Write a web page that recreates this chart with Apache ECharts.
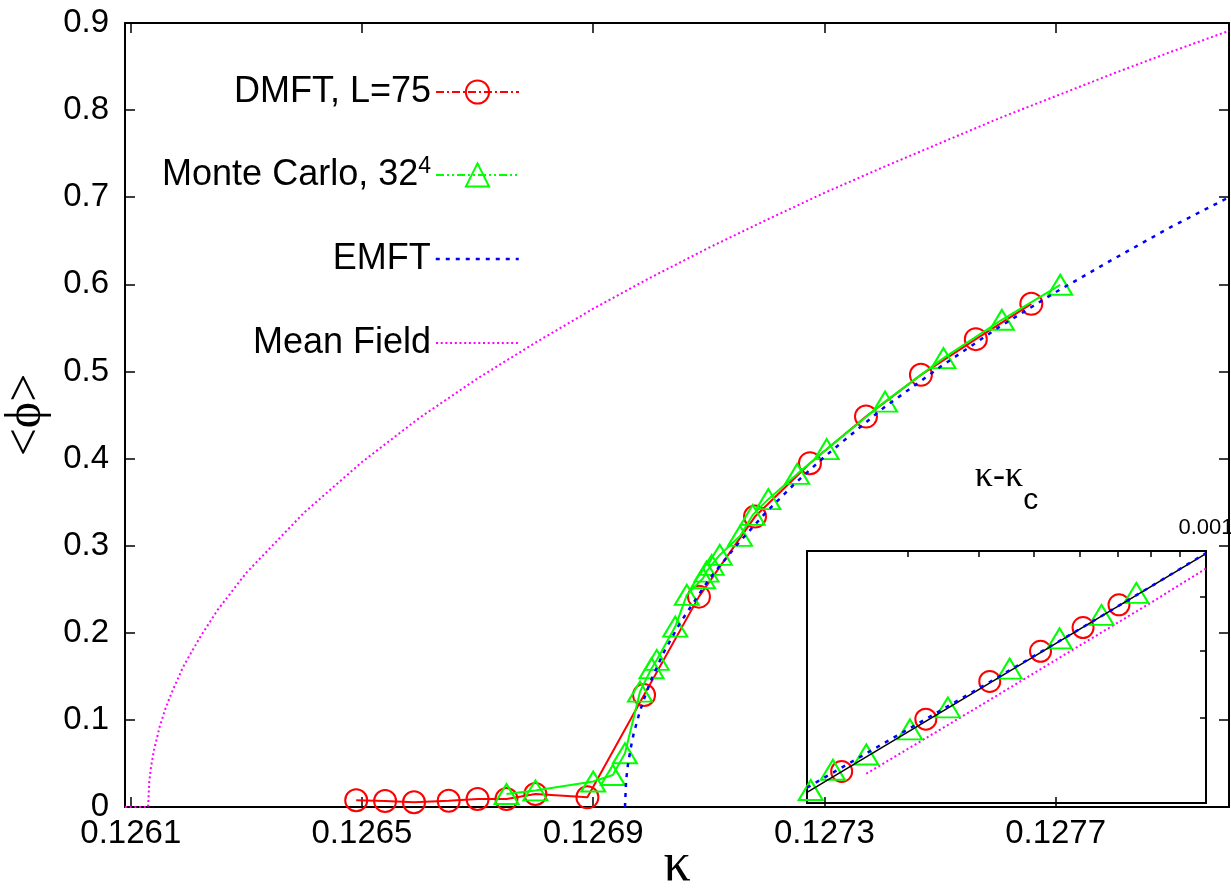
<!DOCTYPE html>
<html><head><meta charset="utf-8">
<script src="https://cdn.jsdelivr.net/npm/echarts@6/dist/echarts.min.js"></script>
<style>html,body{margin:0;padding:0;background:#fff}#c{width:1231px;height:893px}</style>
</head><body><div id="c"></div>
<script>
// ---------- main plot data ----------
const xTicks = [0.1261, 0.1265, 0.1269, 0.1273, 0.1277];

const dmftKappa = [0.12649, 0.12654, 0.12659, 0.12665, 0.12670, 0.12675, 0.12680, 0.12689,
  0.126988, 0.127083, 0.12718, 0.127275, 0.127372, 0.127467, 0.127562, 0.127658];
const dmftPhi = [0.0077, 0.0069, 0.0054, 0.0072, 0.0092, 0.0092, 0.0149, 0.0111,
  0.1286, 0.2415, 0.3334, 0.3947, 0.4482, 0.4961, 0.5371, 0.5776];

const mcKappa = [0.12675, 0.12680, 0.12690, 0.126934, 0.126955, 0.126981, 0.127001, 0.127010,
  0.127042, 0.127062, 0.127090, 0.127096, 0.127105, 0.127119, 0.127154, 0.127176, 0.127203,
  0.127253, 0.127304, 0.127405, 0.127506, 0.127607, 0.127708];
const mcPhi = [0.0149, 0.0190, 0.0293, 0.0367, 0.0617, 0.1324, 0.1593, 0.1688,
  0.2071, 0.2435, 0.2626, 0.2702, 0.2779, 0.2894, 0.3112, 0.3353, 0.3534,
  0.3824, 0.4108, 0.4654, 0.5153, 0.5593, 0.5995];

const emftKappa = [0.126955, 0.126957, 0.12696, 0.126965, 0.12697, 0.12698, 0.12699, 0.12700,
  0.12702, 0.12705, 0.12710, 0.12715, 0.12720, 0.12725, 0.12730, 0.12740, 0.12750, 0.12760,
  0.12770, 0.12780, 0.12790, 0.12800];
const emftPhi = [0.0, 0.031, 0.048, 0.068, 0.084, 0.108, 0.128, 0.145,
  0.175, 0.211, 0.261, 0.302, 0.339, 0.372, 0.402, 0.457, 0.505, 0.550,
  0.591, 0.629, 0.666, 0.700];

const mfKappa = [0.12609, 0.12613, 0.126132, 0.126135, 0.12614, 0.12615, 0.12616, 0.12617,
  0.12619, 0.1262, 0.12622, 0.12625, 0.1263, 0.1264, 0.1265, 0.1266, 0.1267, 0.1268, 0.1269,
  0.1270, 0.1271, 0.1272, 0.1273, 0.1274, 0.1275, 0.1276, 0.1277, 0.1278, 0.1279, 0.1280];
const mfPhi = [0.0, 0.0, 0.029, 0.046, 0.065, 0.092, 0.113, 0.130,
  0.160, 0.172, 0.195, 0.226, 0.269, 0.338, 0.396, 0.447, 0.492, 0.533, 0.572,
  0.608, 0.642, 0.674, 0.705, 0.734, 0.762, 0.790, 0.816, 0.842, 0.867, 0.891];

// ---------- inset data (kappa - kappa_c, <phi>), log-log ----------
const insetDmftDk = [2.30e-4, 3.23e-4, 4.18e-4, 5.13e-4, 6.09e-4, 7.04e-4];
const insetDmftPhi = [0.3336, 0.3977, 0.4514, 0.4996, 0.5411, 0.5841];
const insetMcDk = [2.03e-4, 2.22e-4, 2.54e-4, 3.03e-4, 3.53e-4, 4.53e-4, 5.54e-4, 6.56e-4, 7.55e-4];
const insetMcPhi = [0.3134, 0.3355, 0.3531, 0.3843, 0.4137, 0.4713, 0.5219, 0.5646, 0.6079];
const insetFitDk = [2e-4, 1e-3];
const insetFitPhi = [0.311, 0.694];
const insetEmftDk = [2e-4, 3e-4, 4e-4, 5e-4, 6e-4, 7e-4, 8e-4, 9e-4, 1e-3];
const insetEmftPhi = [0.316, 0.384, 0.441, 0.492, 0.538, 0.581, 0.621, 0.659, 0.695];
const insetMfDk = [2.54e-4, 4e-4, 6e-4, 8e-4, 1e-3];
const insetMfPhi = [0.331, 0.415, 0.509, 0.588, 0.660];
const insetXTicks = [3e-4, 4e-4, 5e-4, 6e-4, 7e-4, 8e-4, 9e-4];
const insetXLabels = [1e-3];
const insetYTicks = [0.4, 0.5, 0.6];
const insetXRange = [2e-4, 1e-3];
const insetYRange = [0.3, 0.7];

const DMFT = 'DMFT, L=75', MC = 'Monte Carlo, 32⁴', EMFT = 'EMFT', MF = 'Mean Field';
const SANS = "'Liberation Sans', Arial, sans-serif";
const SERIF = "'Liberation Serif', 'DejaVu Serif', serif";

const pairs = (xs, ys) => xs.map((x, i) => [x, ys[i]]);
const logPairs = (xs, ys) => xs.map((x, i) => [Math.log10(x), Math.log10(ys[i])]);
const L = Math.log10;

const legendBase = {
  orient: 'vertical', align: 'right', right: 706, itemWidth: 83, itemHeight: 29,
  selectedMode: false, itemGap: 0,
  formatter: n => n === MC ? '{n|Monte Carlo, 32}{s|4}' : '{n|' + n + '}',
  textStyle: { color: '#000', fontFamily: SANS, fontSize: 36, lineHeight: 40,
    rich: { n: { fontSize: 36, fontFamily: SANS, color: '#000', lineHeight: 40 },
            s: { fontSize: 23, fontFamily: SANS, color: '#000', lineHeight: 16, verticalAlign: 'top' } } }
};

const blackLine = { lineStyle: { color: '#000', width: 2 } };
const tickStyle = { color: '#000', width: 1.5 };

const option = {
  animation: false,
  backgroundColor: '#fff',
  grid: [
    { left: 125, right: 2, top: 23, bottom: 86, outerBoundsMode: 'none', containLabel: false },
    { left: 807, right: 25, top: 551, bottom: 90, outerBoundsMode: 'none', containLabel: false,
      show: true, backgroundColor: '#fff', borderColor: '#000', borderWidth: 2 }
  ],
  legend: [
    Object.assign({}, legendBase, { data: [DMFT], top: 67, lineStyle: { type: [8, 3, 2, 3], width: 2 } }),
    Object.assign({}, legendBase, { data: [MC], top: 150, lineStyle: { type: [8, 3, 2, 3, 2, 3], width: 2 } }),
    Object.assign({}, legendBase, { data: [EMFT], top: 234, itemStyle: { opacity: 0 }, lineStyle: { type: [4, 6], width: 2.5 } }),
    Object.assign({}, legendBase, { data: [MF], top: 318, itemStyle: { opacity: 0 }, lineStyle: { type: [2, 2.7], width: 2 } })
  ],
  xAxis: [
    { gridIndex: 0, type: 'value', min: 0.12609, max: 0.128, position: 'bottom',
      axisLine: Object.assign({ onZero: false }, blackLine),
      axisTick: { inside: true, length: 10, customValues: xTicks, lineStyle: tickStyle },
      axisLabel: { customValues: xTicks, formatter: v => v.toFixed(4), fontSize: 33, fontFamily: SANS, color: '#000', margin: 10 },
      splitLine: { show: false },
      name: 'κ', nameLocation: 'middle', nameGap: 32, nameMoveOverlap: false,
      nameTextStyle: { fontFamily: SERIF, fontSize: 54, color: '#000' } },
    { gridIndex: 0, type: 'value', min: 0.12609, max: 0.128, position: 'top',
      axisLine: Object.assign({ onZero: false }, blackLine),
      axisTick: { inside: true, length: 10, customValues: xTicks, lineStyle: tickStyle },
      axisLabel: { show: false }, splitLine: { show: false } },
    { gridIndex: 1, type: 'value', min: L(insetXRange[0]), max: L(insetXRange[1]), position: 'top',
      axisLine: Object.assign({ onZero: false }, blackLine),
      axisTick: { inside: true, length: 6, customValues: insetXTicks.map(L), lineStyle: tickStyle },
      axisLabel: { customValues: insetXLabels.map(L), formatter: v => Math.pow(10, v).toFixed(3),
        fontSize: 22, fontFamily: SANS, color: '#000', margin: 12 },
      splitLine: { show: false },
      name: '{k|κ-κ}{c|c}', nameLocation: 'middle', nameGap: 24,
      nameTextStyle: { rich: {
        k: { fontFamily: SERIF, fontSize: 36, lineHeight: 36, color: '#000', verticalAlign: 'top' },
        c: { fontFamily: SANS, fontSize: 30, lineHeight: 58, color: '#000', verticalAlign: 'bottom' } } } },
    { gridIndex: 1, type: 'value', min: L(insetXRange[0]), max: L(insetXRange[1]), position: 'bottom',
      axisLine: Object.assign({ onZero: false }, blackLine),
      axisTick: { show: false }, axisLabel: { show: false }, splitLine: { show: false } }
  ],
  yAxis: [
    { gridIndex: 0, type: 'value', min: 0, max: 0.9, interval: 0.1, position: 'left',
      axisLine: Object.assign({ onZero: false }, blackLine),
      axisTick: { inside: true, length: 10, lineStyle: tickStyle },
      axisLabel: { formatter: v => v === 0 ? '0' : v.toFixed(1), fontSize: 33, fontFamily: SANS, color: '#000', margin: 16 },
      splitLine: { show: false },
      name: '<ϕ>', nameLocation: 'middle', nameGap: 72, nameRotate: 90,
      nameTextStyle: { fontFamily: SERIF, fontSize: 50, color: '#000' } },
    { gridIndex: 0, type: 'value', min: 0, max: 0.9, interval: 0.1, position: 'right',
      axisLine: Object.assign({ onZero: false }, blackLine),
      axisTick: { inside: true, length: 10, lineStyle: tickStyle },
      axisLabel: { show: false }, splitLine: { show: false } },
    { gridIndex: 1, type: 'value', min: L(insetYRange[0]), max: L(insetYRange[1]), position: 'right',
      axisLine: Object.assign({ onZero: false }, blackLine),
      axisTick: { inside: true, length: 6, customValues: insetYTicks.map(L), lineStyle: tickStyle },
      axisLabel: { show: false }, splitLine: { show: false } },
    { gridIndex: 1, type: 'value', min: L(insetYRange[0]), max: L(insetYRange[1]), position: 'left',
      axisLine: Object.assign({ onZero: false }, blackLine),
      axisTick: { show: false }, axisLabel: { show: false }, splitLine: { show: false } }
  ],
  series: [
    { name: MF, type: 'line', xAxisIndex: 0, yAxisIndex: 0, data: pairs(mfKappa, mfPhi),
      symbol: 'none', lineStyle: { color: '#ff00ff', width: 2, type: [2, 2.7] }, itemStyle: { color: '#ff00ff' }, z: 2 },
    { name: DMFT, type: 'line', xAxisIndex: 0, yAxisIndex: 0, data: pairs(dmftKappa, dmftPhi),
      symbol: 'circle', symbolSize: 22,
      itemStyle: { color: 'transparent', borderColor: '#ff0000', borderWidth: 2 },
      lineStyle: { color: '#ff0000', width: 2 }, z: 3 },
    { name: MC, type: 'line', xAxisIndex: 0, yAxisIndex: 0, data: pairs(mcKappa, mcPhi),
      symbol: 'triangle', symbolSize: [24, 20],
      itemStyle: { color: 'transparent', borderColor: '#00ff00', borderWidth: 2 },
      lineStyle: { color: '#00ff00', width: 2 }, z: 4 },
    { name: EMFT, type: 'line', xAxisIndex: 0, yAxisIndex: 0, data: pairs(emftKappa, emftPhi),
      symbol: 'none', lineStyle: { color: '#0000ff', width: 2.5, type: [4, 6] }, itemStyle: { color: '#0000ff' }, z: 5 },

    // inset
    { type: 'line', xAxisIndex: 2, yAxisIndex: 2, data: logPairs(insetMfDk, insetMfPhi),
      symbol: 'none', lineStyle: { color: '#ff00ff', width: 2, type: [2, 2.7] }, z: 6 },
    { type: 'scatter', xAxisIndex: 2, yAxisIndex: 2, data: logPairs(insetDmftDk, insetDmftPhi),
      symbol: 'circle', symbolSize: 21,
      itemStyle: { color: 'transparent', borderColor: '#ff0000', borderWidth: 2, opacity: 1 }, z: 7 },
    { type: 'scatter', xAxisIndex: 2, yAxisIndex: 2, data: logPairs(insetMcDk, insetMcPhi),
      symbol: 'triangle', symbolSize: [24, 20],
      itemStyle: { color: 'transparent', borderColor: '#00ff00', borderWidth: 2, opacity: 1 }, z: 8 },
    { type: 'line', xAxisIndex: 2, yAxisIndex: 2, data: logPairs(insetFitDk, insetFitPhi),
      symbol: 'none', lineStyle: { color: '#000', width: 1.5 }, z: 9 },
    { type: 'line', xAxisIndex: 2, yAxisIndex: 2, data: logPairs(insetEmftDk, insetEmftPhi),
      symbol: 'none', lineStyle: { color: '#0000ff', width: 2.5, type: [4, 6] }, z: 10 }
  ]
};

const chart = echarts.init(document.getElementById('c'), null, { renderer: 'canvas' });
chart.setOption(option);
</script></body></html>
